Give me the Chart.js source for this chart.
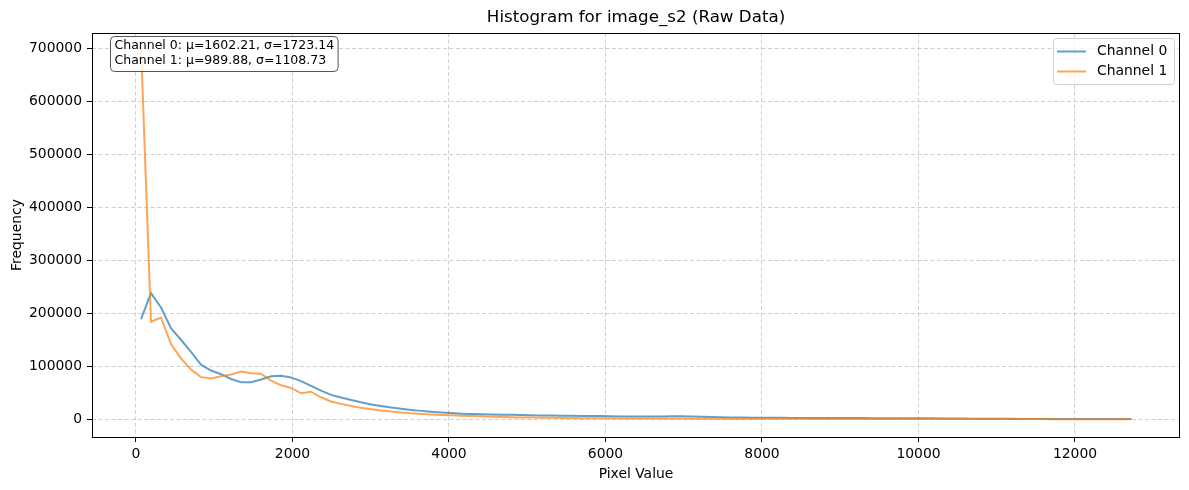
<!DOCTYPE html>
<html lang="en">
<head>
<meta charset="UTF-8">
<script src="https://cdn.jsdelivr.net/npm/chart.js"></script>
<title>Histogram for image_s2</title>
<style>
  body { margin: 0; background: #fff; }
</style>
</head>
<body>
<canvas id="histChart" width="1189" height="490"></canvas>
<script>
    // bin centres (pixel value)
    const binCenters = [64, 192, 320, 447, 575, 703, 831, 959, 1087, 1215,
        1342, 1470, 1598, 1726, 1854, 1982, 2110, 2237, 2365, 2493,
        2621, 2749, 2877, 3004, 3132, 3260, 3388, 3516, 3644, 3772,
        3899, 4027, 4155, 4283, 4411, 4539, 4667, 4794, 4922, 5050,
        5178, 5306, 5434, 5562, 5689, 5817, 5945, 6073, 6201, 6329,
        6456, 6584, 6712, 6840, 6968, 7096, 7224, 7351, 7479, 7607,
        7735, 7863, 7991, 8119, 8246, 8374, 8502, 8630, 8758, 8886,
        9013, 9141, 9269, 9397, 9525, 9653, 9781, 9908, 10036, 10164,
        10292, 10420, 10548, 10676, 10803, 10931, 11059, 11187, 11315, 11443,
        11570, 11698, 11826, 11954, 12082, 12210, 12338, 12465, 12593, 12721]

    const channel0 = [189000, 238000, 211000, 172000, 150000, 127000, 103000, 92000, 85000, 76000,
        70000, 70000, 75000, 81000, 82000, 79000, 72000, 63000, 54000, 46000,
        41000, 36500, 32000, 28000, 25000, 22000, 19800, 17600, 15800, 14200,
        12800, 11600, 10600, 9900, 9400, 9000, 8700, 8300, 8000, 7600,
        7200, 6900, 6700, 6500, 6300, 6100, 5900, 5600, 5400, 5200,
        5100, 5100, 5300, 5500, 5500, 5200, 4700, 4100, 3600, 3300,
        3100, 2950, 2800, 2700, 2600, 2500, 2450, 2400, 2350, 2300,
        2250, 2200, 2150, 2100, 2050, 2000, 1950, 1900, 1800, 1700,
        1550, 1400, 1250, 1100, 1000, 900, 820, 750, 690, 640,
        590, 550, 510, 480, 450, 420, 390, 360, 330, 300]

    const channel1 = [705000, 184000, 192000, 142000, 115000, 94000, 79500, 77000, 81000, 84500,
        90000, 87000, 86000, 73000, 64000, 59000, 49000, 52000, 41500, 33500,
        29000, 25000, 21500, 19000, 16500, 14500, 12800, 11300, 10100, 9000,
        8200, 7500, 6800, 6100, 5500, 4900, 4400, 3900, 3500, 3100,
        2800, 2600, 2400, 2200, 2050, 1900, 1800, 1700, 1600, 1500,
        1420, 1350, 1300, 1250, 1200, 1150, 1100, 1050, 1000, 960,
        920, 880, 850, 820, 790, 760, 730, 700, 670, 640,
        610, 590, 570, 550, 530, 510, 490, 470, 450, 430,
        410, 390, 370, 350, 330, 310, 295, 280, 265, 250,
        240, 230, 220, 210, 200, 190, 180, 170, 160, 150]

    const xTicks = [0, 2000, 4000, 6000, 8000, 10000, 12000]
    const yTicks = [0, 100000, 200000, 300000, 400000, 500000, 600000, 700000]

    const seriesNames = ['Channel 0', 'Channel 1']
    const seriesColors = ['rgba(31, 119, 180, 0.7)', 'rgba(255, 127, 14, 0.7)']
    const statsLines = ['Channel 0: μ=1602.21, σ=1723.14', 'Channel 1: μ=989.88, σ=1108.73']
    const titulo = 'Histogram for image_s2 (Raw Data)'

    const fonte = 'DejaVu Sans'
    const gridCor = 'rgba(176, 176, 176, 0.6)'

    function roundRect(ctx, x, y, w, h, r) {
        ctx.beginPath()
        ctx.moveTo(x + r, y)
        ctx.lineTo(x + w - r, y)
        ctx.quadraticCurveTo(x + w, y, x + w, y + r)
        ctx.lineTo(x + w, y + h - r)
        ctx.quadraticCurveTo(x + w, y + h, x + w - r, y + h)
        ctx.lineTo(x + r, y + h)
        ctx.quadraticCurveTo(x, y + h, x, y + h - r)
        ctx.lineTo(x, y + r)
        ctx.quadraticCurveTo(x, y, x + r, y)
        ctx.closePath()
    }

    // title, frame, stats box and legend in matplotlib style
    const extras = {
        id: 'extras',
        afterDatasetsDraw(chart) {
            const ctx = chart.ctx
            const a = chart.chartArea
            ctx.save()
            ctx.strokeStyle = '#000'
            ctx.lineWidth = 1
            ctx.strokeRect(Math.round(a.left) + 0.5, Math.round(a.top) + 0.5,
                Math.round(a.right - a.left) - 1, Math.round(a.bottom - a.top))
            ctx.restore()
        },
        afterDraw(chart) {
            const ctx = chart.ctx
            const a = chart.chartArea
            ctx.save()

            ctx.fillStyle = '#000'
            ctx.font = '16.7px "' + fonte + '"'
            ctx.textAlign = 'center'
            ctx.textBaseline = 'middle'
            ctx.fillText(titulo, (a.left + a.right) / 2, 18)

            // stats box
            ctx.font = '12.5px "' + fonte + '"'
            ctx.textAlign = 'left'
            let w = Math.max(...statsLines.map(t => ctx.measureText(t).width)) + 8
            roundRect(ctx, 110.5, 36.5, w, 35, 4)
            ctx.fillStyle = 'rgba(255,255,255,0.8)'
            ctx.fill()
            ctx.strokeStyle = '#555'
            ctx.lineWidth = 1
            ctx.stroke()
            ctx.fillStyle = '#000'
            statsLines.forEach((t, i) => ctx.fillText(t, 114.5, 46 + i * 15))

            // legend
            roundRect(ctx, 1053.5, 38.5, 121, 46, 3)
            ctx.fillStyle = 'rgba(255,255,255,0.8)'
            ctx.fill()
            ctx.strokeStyle = '#d0d0d0'
            ctx.stroke()
            ctx.font = '13.9px "' + fonte + '"'
            seriesNames.forEach((n, i) => {
                const y = 51.5 + i * 20
                ctx.strokeStyle = seriesColors[i]
                ctx.lineWidth = 2
                ctx.beginPath()
                ctx.moveTo(1057, y)
                ctx.lineTo(1086, y)
                ctx.stroke()
                ctx.fillStyle = '#000'
                ctx.fillText(n, 1097, y)
            })
            ctx.restore()
        }
    }

    const ctx = document.getElementById('histChart')
    new Chart(ctx, {
        type: 'line',
        data: {
            datasets: [{
                label: seriesNames[0],
                data: binCenters.map((x, i) => ({ x: x, y: channel0[i] })),
                borderColor: seriesColors[0],
                borderWidth: 2,
                pointRadius: 0,
                tension: 0,
                order: 1
            }, {
                label: seriesNames[1],
                data: binCenters.map((x, i) => ({ x: x, y: channel1[i] })),
                borderColor: seriesColors[1],
                borderWidth: 2,
                pointRadius: 0,
                tension: 0,
                order: 0
            }]
        },
        options: {
            responsive: false,
            animation: false,
            layout: { padding: { top: 33, right: 9, left: 0, bottom: 0 } },
            plugins: {
                legend: { display: false },
                tooltip: { enabled: false },
                title: { display: false }
            },
            scales: {
                x: {
                    type: 'linear',
                    min: -562,
                    max: 13342,
                    afterBuildTicks: s => { s.ticks = xTicks.map(v => ({ value: v })) },
                    afterFit: s => { s.height = 53 },
                    ticks: {
                        color: '#000',
                        font: { family: fonte, size: 13.9 },
                        padding: 4,
                        maxRotation: 0,
                        callback: v => String(v)
                    },
                    grid: { color: gridCor, lineWidth: 1, tickLength: 5, tickColor: '#000', tickBorderDash: [] },
                    border: { display: false, dash: [4, 2.5] },
                    title: {
                        display: true,
                        text: 'Pixel Value',
                        color: '#000',
                        font: { family: fonte, size: 13.9 },
                        padding: { top: 4, bottom: 7 }
                    }
                },
                y: {
                    min: -33500,
                    max: 729000,
                    afterBuildTicks: s => { s.ticks = yTicks.map(v => ({ value: v })) },
                    afterFit: s => { s.width = 92 },
                    ticks: {
                        color: '#000',
                        font: { family: fonte, size: 13.9 },
                        padding: 5,
                        callback: v => String(v)
                    },
                    grid: { color: gridCor, lineWidth: 1, tickLength: 5, tickColor: '#000', tickBorderDash: [] },
                    border: { display: false, dash: [4, 2.5] },
                    title: {
                        display: true,
                        text: 'Frequency',
                        color: '#000',
                        font: { family: fonte, size: 13.9 },
                        padding: { top: 9, bottom: 4 }
                    }
                }
            }
        },
        plugins: [extras]
    })
</script>
</body>
</html>
